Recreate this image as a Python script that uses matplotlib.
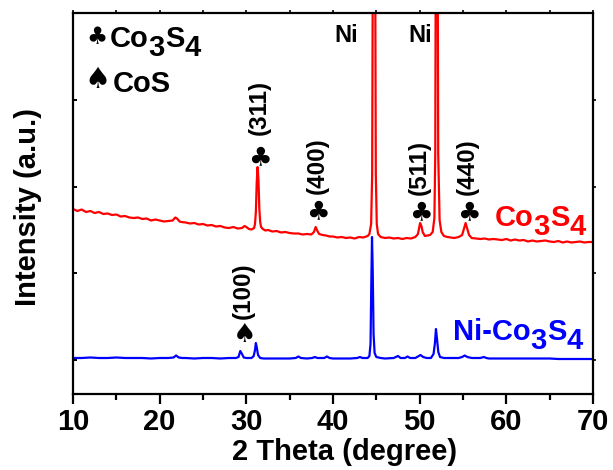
import matplotlib
matplotlib.use("Agg")
import matplotlib.pyplot as plt
from matplotlib.ticker import MultipleLocator, FixedLocator

# ---------------- data ----------------
# Co3S4 (red) pattern: 2theta (deg) and intensity (a.u., arbitrary scale)
co3s4_x = [10.0, 10.5, 11.0, 11.5, 12.0, 12.5, 13.0, 13.5, 14.0, 14.5, 15.0, 15.5,
           16.0, 16.5, 17.0, 17.5, 18.0, 18.5, 19.0, 19.5, 20.0, 20.5, 21.0, 21.5,
           21.8, 22.0, 22.3, 22.5, 23.0, 23.5, 24.0, 24.5, 25.0, 25.5, 26.0, 26.5,
           27.0, 27.5, 28.0, 28.5, 29.0, 29.5, 29.8, 30.0, 30.3, 30.6, 30.9, 31.0,
           31.1, 31.2, 31.3, 31.4, 31.5, 31.6, 31.7, 31.9, 32.2, 32.5, 33.0, 33.5,
           34.0, 34.5, 35.0, 35.5, 36.0, 36.5, 37.0, 37.5, 37.8, 38.0, 38.2, 38.4,
           38.8, 39.2, 39.6, 40.0, 40.5, 41.0, 41.5, 42.0, 42.5, 43.0, 43.5, 44.0,
           44.2, 44.4, 44.52, 44.62, 44.73, 44.84, 44.94, 45.05, 45.2, 45.5, 46.0, 46.5,
           47.0, 47.5, 48.0, 48.5, 49.0, 49.5, 49.8, 50.05, 50.2, 50.35, 50.6, 50.9,
           51.2, 51.5, 51.7, 51.8, 51.88, 51.96, 52.05, 52.14, 52.3, 52.5, 52.8, 53.2,
           53.6, 54.0, 54.5, 54.9, 55.1, 55.3, 55.5, 55.7, 56.0, 56.5, 57.0, 57.5,
           58.0, 58.5, 59.0, 59.5, 60.0, 60.5, 61.0, 61.5, 62.0, 62.5, 63.0, 63.5,
           64.0, 64.5, 65.0, 65.5, 66.0, 66.5, 67.0, 67.5, 68.0, 68.5, 69.0, 69.5,
           70.0]
co3s4_y = [185, 183, 184.5, 182, 183, 181, 182, 180, 180.5, 179, 179.5, 177.5,
           178, 176.5, 176, 176.5, 175, 175.5, 173.5, 174.5, 173.5, 172.5, 173, 173.5,
           176.5, 175.5, 172.5, 172, 171.5, 170.5, 171, 169.5, 170, 168.5, 169, 167.5,
           168, 166.5, 166, 167, 165.5, 166, 168, 167, 165, 164.5, 166, 170,
           182, 212, 227, 214, 185, 172, 167, 165, 163.5, 164, 162.5, 163,
           161.5, 162, 161, 160.5, 160.5, 159.5, 160, 159.5, 162, 167, 163, 160,
           159, 158.5, 157.5, 157.5, 156.5, 157, 156, 156.5, 155.5, 157, 156.5, 158,
           160, 170, 220, 520, 700, 520, 220, 170, 160, 157, 156, 156.5,
           155.5, 156, 155, 156, 155.5, 157, 160, 171, 168, 162, 158, 158.5,
           159, 162, 176, 240, 520, 700, 520, 240, 174, 162, 158, 157,
           156.5, 156, 157, 159, 165, 171, 165, 159, 156, 155.5, 155, 155.5,
           154.5, 155, 154.5, 154, 155, 153.5, 154.5, 153.5, 154, 152.5, 153.5, 152.5,
           153, 153.5, 152.5, 152, 153, 151.5, 152.5, 151.5, 152, 152.5, 151.5, 152,
           152]

# Ni-Co3S4 (blue) pattern
nico3s4_x = [10.0, 11.0, 12.0, 13.0, 14.0, 15.0, 16.0, 17.0, 18.0, 19.0, 20.0, 21.0,
             21.6, 21.9, 22.2, 22.6, 23.0, 24.0, 25.0, 26.0, 27.0, 28.0, 28.8, 29.1,
             29.3, 29.5, 29.7, 30.0, 30.6, 30.85, 31.0, 31.1, 31.2, 31.35, 31.6, 32.0,
             33.0, 34.0, 35.0, 35.7, 36.0, 36.3, 37.0, 37.6, 37.9, 38.2, 39.0, 39.3,
             39.6, 40.0, 41.0, 42.0, 42.8, 43.1, 43.4, 44.0, 44.2, 44.33, 44.42, 44.5,
             44.58, 44.68, 44.8, 45.0, 45.5, 46.0, 47.0, 47.5, 47.8, 48.3, 48.6, 48.9,
             49.5, 49.9, 50.1, 50.4, 50.8, 51.3, 51.6, 51.75, 51.88, 52.0, 52.15, 52.35,
             52.8, 53.5, 54.5, 54.9, 55.2, 55.5, 56.0, 57.0, 57.4, 57.7, 58.0, 59.0,
             60.0, 61.0, 62.0, 63.0, 64.0, 65.0, 66.0, 67.0, 68.0, 69.0, 70.0]
nico3s4_y = [36, 36, 36.5, 36, 36, 36.5, 36, 36, 36, 35.5, 36, 36,
             36.5, 38.5, 36.5, 36, 36, 35.5, 36, 36, 35.5, 36, 36, 37,
             43, 40, 36.5, 36, 36, 38, 44, 51, 47, 39, 36, 35.5,
             35.5, 35.5, 35.5, 36, 37.5, 36, 35.5, 36, 37, 36, 36, 37.5,
             36, 35.5, 35.5, 35.5, 36, 37, 36, 36, 38, 50, 110, 157,
             125, 60, 41, 37, 36, 35.5, 36, 38, 36, 36, 37.5, 36,
             36, 38, 39, 37, 36, 36, 40, 50, 65, 55, 42, 37,
             36, 36, 36, 37, 38.5, 37, 36, 36, 37, 36, 35.5, 35.5,
             35.5, 35.5, 35.5, 35.5, 35.5, 35.5, 35, 35, 35, 35, 35]

x_major_ticks = [10, 20, 30, 40, 50, 60, 70]
x_tick_labels = ["10", "20", "30", "40", "50", "60", "70"]
y_ticks = [34, 121, 207, 294]

# peak annotations: (2theta of label, symbol, hkl text)
co3s4_peaks = [(31.45, "\u2663", "(311)"), (38.15, "\u2663", "(400)"),
               (50.0, "\u2663", "(511)"), (55.5, "\u2663", "(440)")]
cos_peaks = [(29.6, "\u2660", "(100)")]
ni_label_x = [41.55, 50.05]

# ---------------- figure ----------------
W, H = 613, 470
fig = plt.figure(figsize=(W / 100, H / 100), dpi=100)
FONT = "Liberation Sans"
SYM = "DejaVu Sans"


def fx(px):
    return px / W


def fy(py):
    return 1 - py / H


ax = fig.add_axes([fx(73), fy(394), fx(593) - fx(73), fy(13) - fy(394)])
ax.plot(co3s4_x, co3s4_y, color="#ff0000", lw=1.6, solid_joinstyle="round")
ax.plot(nico3s4_x, nico3s4_y, color="#0000ff", lw=1.6, solid_joinstyle="round")
ax.set_xlim(10, 70)
ax.set_ylim(0, 381)

for s in ax.spines.values():
    s.set_linewidth(1.6)

ax.xaxis.set_major_locator(FixedLocator(x_major_ticks))
ax.set_xticklabels(x_tick_labels, fontfamily=FONT, fontweight="bold", fontsize=21)
ax.xaxis.set_minor_locator(MultipleLocator(5))
ax.tick_params(axis="x", which="major", direction="out", length=7, width=1.6, pad=3)
ax.tick_params(axis="x", which="minor", direction="out", length=4, width=1.6)
ax.set_yticks(y_ticks)
ax.set_yticklabels([])
ax.tick_params(axis="y", which="major", direction="in", length=3, width=1.4, left=True, right=False)

# top / right short outward ticks
top = ax.secondary_xaxis("top")
top.xaxis.set_major_locator(MultipleLocator(5))
top.tick_params(direction="out", length=2.5, width=1.2, labeltop=False)
top.spines["top"].set_visible(False)
right = ax.secondary_yaxis("right")
right.set_yticks(y_ticks)
right.tick_params(direction="out", length=2.5, width=1.2, labelright=False)
right.spines["right"].set_visible(False)

# axis labels
fig.text(fx(345), fy(460), "2 Theta (degree)", fontfamily=FONT, fontweight="bold",
         fontsize=21, ha="center", va="baseline")
fig.text(fx(28), fy(207), "Intensity (a.u.)", fontfamily=FONT, fontweight="bold",
         fontsize=21, ha="center", va="center", rotation=90)


def formula(px, py, parts, color, size=21, sub_off=6.8):
    """draw a formula with full-size, lowered subscripts, starting at pixel px, baseline py"""
    prev = fig.text(fx(px), fy(py), parts[0][0], color=color, fontfamily=FONT,
                    fontweight="bold", fontsize=size, ha="left", va="baseline")
    prev_sub = parts[0][1]
    for txt, sub in parts[1:]:
        dy = 0
        if sub and not prev_sub:
            dy = -sub_off
        elif prev_sub and not sub:
            dy = sub_off
        prev = ax.annotate(txt, xy=(1, 0), xycoords=prev, xytext=(0, dy),
                           textcoords="offset points", ha="left", va="bottom",
                           color=color, fontfamily=FONT, fontweight="bold",
                           fontsize=size, annotation_clip=False)
        prev_sub = sub


# legend (top-left)
fig.text(fx(97), fy(37), "\u2663", fontfamily=SYM, fontsize=17, ha="center", va="center")
formula(110, 47, [("Co", False), ("3", True), ("S", False), ("4", True)], "black")
fig.text(fx(97), fy(80), "\u2660", fontfamily=SYM, fontsize=21, ha="center", va="center")
formula(113, 92, [("CoS", False)], "black")

# sample labels
formula(495, 226, [("Co", False), ("3", True), ("S", False), ("4", True)], "#ff0000")
formula(453, 340, [("Ni-Co", False), ("3", True), ("S", False), ("4", True)], "#0000ff")

# Ni labels
for xp in ni_label_x:
    ax.text(xp, 394 - 42, "Ni", fontfamily=FONT, fontweight="bold", fontsize=17,
            ha="center", va="baseline")

# peak annotations
sym_y = {"(311)": 236, "(400)": 182, "(511)": 181, "(440)": 181, "(100)": 59}
txt_y = {"(311)": 259, "(400)": 200, "(511)": 199, "(440)": 199, "(100)": 75}
for xp, sym, lab in co3s4_peaks + cos_peaks:
    ax.text(xp + 0.15, sym_y[lab], sym, fontfamily=SYM, fontsize=19, ha="center", va="center")
    ax.text(xp, txt_y[lab], lab, fontfamily=FONT, fontweight="bold", fontsize=17.5,
            rotation=90, ha="center", va="bottom")

fig.savefig("out.png", dpi=100)
